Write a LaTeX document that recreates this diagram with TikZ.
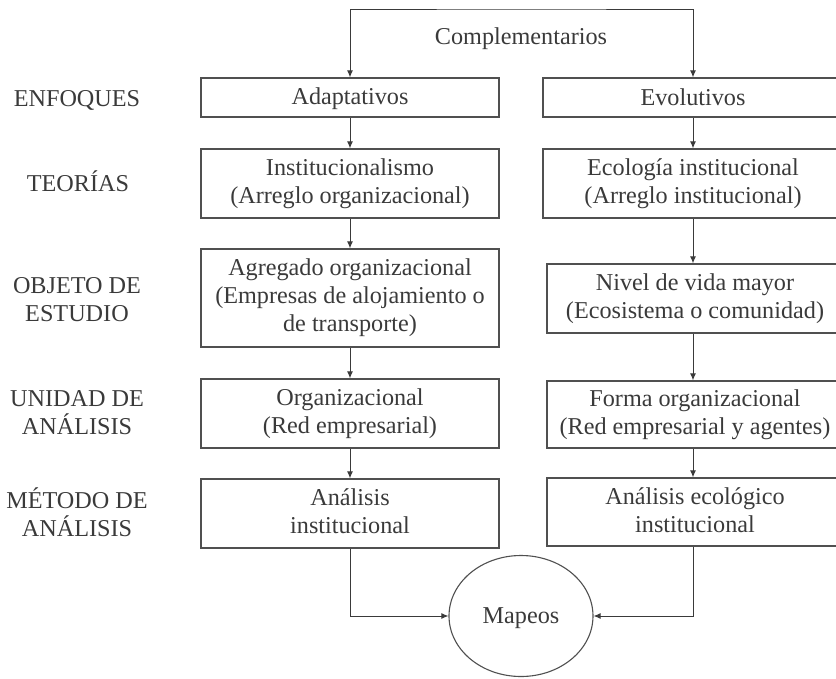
\documentclass[tikz,border=0pt]{standalone}
\usepackage{fontspec}
\setmainfont{Liberation Serif}
\usetikzlibrary{arrows.meta,shapes.geometric}
\definecolor{ink}{HTML}{3A3A3A}
\definecolor{frame}{HTML}{505050}
\newcommand{\mystrut}{\rule[-4pt]{0pt}{24pt}}
\tikzset{
  txt/.style={font=\fontsize{24.2}{28}\selectfont, text=ink, align=center, inner sep=0pt,
    execute at begin node={\mystrut}, execute at end node={\mystrut}},
  box/.style={txt, draw=frame, line width=1.3pt, inner sep=0pt},
  lbl/.style={txt},
  arr/.style={draw=ink, line width=1pt, -{Latex[length=7pt,width=6pt]}},
  twoarr/.style={draw=ink, line width=1pt, {Latex[length=7pt,width=6pt]}-{Latex[length=7pt,width=6pt]}},
}
\begin{document}
\begin{tikzpicture}[x=1pt,y=-1pt]
\useasboundingbox (0,0) rectangle (836,678);
% left column boxes
\node[box, minimum width=298pt, minimum height=39pt] (a1) at (350,97.5) {Adaptativos};
\node[box, minimum width=298pt, minimum height=69pt] (a2) at (350,183.5) {Institucionalismo\\(Arreglo organizacional)};
\node[box, minimum width=298pt, minimum height=98pt] (a3) at (350,298) {Agregado organizacional\\(Empresas de alojamiento o\\de transporte)};
\node[box, minimum width=298pt, minimum height=69pt] (a4) at (350,413.5) {Organizacional\\(Red empresarial)};
\node[box, minimum width=298pt, minimum height=69pt] (a5) at (350,513.5) {Análisis\\institucional};
% right column boxes
\node[box, minimum width=300pt, minimum height=39pt] (e1) at (693,97.5) {Evolutivos};
\node[box, minimum width=300pt, minimum height=69pt] (e2) at (693,183.5) {Ecología institucional\\(Arreglo institucional)};
\node[box, minimum width=296pt, minimum height=69pt] (e3) at (695,298.5) {Nivel de vida mayor\\(Ecosistema o comunidad)};
\node[box, minimum width=296pt, minimum height=67pt] (e4) at (695,414.5) {Forma organizacional\\(Red empresarial y agentes)};
\node[box, minimum width=296pt, minimum height=68pt] (e5) at (695,512) {Análisis ecológico\\institucional};
% ellipse
\node[txt, draw=frame, line width=1.1pt, ellipse, minimum width=144pt, minimum height=121pt] (m) at (521,616) {Mapeos};
% top label
\node[txt] (comp) at (521,37) {Complementarios};
\coordinate (top) at (521,9);
% row labels
\node[lbl] (l1) at (77,98) {ENFOQUES};
\node[lbl] (l2) at (78,183) {TEORÍAS};
\node[lbl] (l3) at (77,301) {OBJETO DE\\ESTUDIO};
\node[lbl] (l4) at (77,415) {UNIDAD DE\\ANÁLISIS};
\node[lbl] (l5) at (77,514) {MÉTODO DE\\ANÁLISIS};
% connectors
\draw[twoarr] (a1.north) |- (top) -| (e1.north);
\draw[arr] (a1.south) -- (a2.north);
\draw[arr] (a2.south) -- (a3.north);
\draw[arr] (a3.south) -- (a4.north);
\draw[arr] (a4.south) -- (a5.north);
\draw[arr] (e1.south) -- (e2.north);
\draw[arr] (e2.south) -- (e2.south |- e3.north);
\draw[arr] (e2.south |- e3.south) -- (e2.south |- e4.north);
\draw[arr] (e2.south |- e4.south) -- (e2.south |- e5.north);
\draw[arr] (a5.south) |- (m.west);
\draw[arr] (e2.south |- e5.south) |- (m.east);
\end{tikzpicture}
\end{document}
